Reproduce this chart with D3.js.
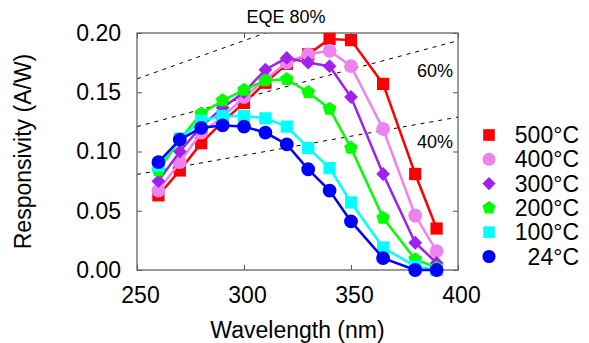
<!DOCTYPE html>
<html>
<head>
<meta charset="utf-8">
<script src="https://cdn.jsdelivr.net/npm/d3@7"></script>
<style>
  body { margin: 0; background: #fff; }
  svg text { font-family: "Liberation Sans", Arial, sans-serif; fill: #000; }
</style>
</head>
<body>
<svg class="chart"></svg>
<script>
const wavelengths = [260, 270, 280, 290, 300, 310, 320, 330, 340, 350, 365, 380, 390];
const s500 = [0.063, 0.084, 0.107, 0.125, 0.141, 0.158, 0.174, 0.182, 0.195, 0.194, 0.157, 0.081, 0.035];
const s400 = [0.067, 0.091, 0.116, 0.129, 0.146, 0.161, 0.175, 0.182, 0.185, 0.172, 0.119, 0.046, 0.016];
const s300 = [0.075, 0.100, 0.121, 0.137, 0.150, 0.169, 0.179, 0.175, 0.172, 0.146, 0.081, 0.023, 0.006];
const s200 = [0.084, 0.110, 0.132, 0.143, 0.152, 0.160, 0.161, 0.150, 0.136, 0.103, 0.044, 0.009, 0.002];
const s100 = [0.088, 0.111, 0.126, 0.130, 0.130, 0.128, 0.121, 0.103, 0.086, 0.057, 0.019, 0.003, 0.000];
const s24  = [0.091, 0.110, 0.120, 0.122, 0.121, 0.116, 0.106, 0.085, 0.067, 0.041, 0.010, 0.000, 0.000];
const seriesNames = ["500°C", "400°C", "300°C", "200°C", "100°C", "24°C"];
const seriesColors = ["#ff0000", "#ee82ee", "#a020f0", "#00ff00", "#00ffff", "#0000ff"];
const seriesShapes = ["square", "circle", "diamond", "pentagon", "square", "circle"];
const seriesValues = [s500, s400, s300, s200, s100, s24];
const xTicks = [250, 300, 350, 400];
const yTicks = [0, 0.05, 0.10, 0.15, 0.20];
const eqeLevels = [0.8, 0.6, 0.4];
const eqeLabels = ["EQE 80%", "60%", "40%"];

const margin = { top: 33, right: 131, bottom: 73, left: 137 },
      width = 589 - margin.left - margin.right,
      height = 343 - margin.top - margin.bottom;

const svg = d3.select(".chart")
    .attr("width", 589)
    .attr("height", 343)
    .append("g")
    .attr("transform", `translate(${margin.left}, ${margin.top})`);

const x = d3.scaleLinear().domain([250, 400]).range([0, width]);
const y = d3.scaleLinear().domain([0, 0.2]).range([height, 0]);

svg.append("defs").append("clipPath").attr("id", "clip")
    .append("rect").attr("width", width).attr("height", height);

// EQE dashed guide lines: R = EQE * lambda / 1240
svg.append("g").attr("clip-path", "url(#clip)")
    .selectAll("line").data(eqeLevels).enter().append("line")
    .attr("x1", x(250)).attr("x2", x(400))
    .attr("y1", d => y(d * 250 / 1240))
    .attr("y2", d => y(d * 400 / 1240))
    .attr("stroke", "#000").attr("stroke-width", 1)
    .attr("stroke-dasharray", "4,5");

svg.append("text").attr("x", 149).attr("y", -10)
    .attr("text-anchor", "middle").style("font-size", "18px").text(eqeLabels[0]);
svg.append("text").attr("x", 316).attr("y", 44)
    .attr("text-anchor", "end").style("font-size", "18px").text(eqeLabels[1]);
svg.append("text").attr("x", 316).attr("y", 115)
    .attr("text-anchor", "end").style("font-size", "18px").text(eqeLabels[2]);

// axes with inward ticks on all sides
const axisStyle = g => {
    g.select(".domain").remove();
    g.selectAll(".tick line").attr("stroke", "#555");
    g.selectAll(".tick text").style("font-size", "23px");
};
svg.append("g").attr("transform", `translate(0, ${height})`)
    .call(d3.axisBottom(x).tickValues(xTicks).tickSizeInner(-5).tickPadding(17).tickFormat(d3.format("d")))
    .call(axisStyle)
    .call(g => g.selectAll(".tick text").attr("dx", "3"));
svg.append("g")
    .call(d3.axisTop(x).tickValues(xTicks).tickSizeInner(-5).tickFormat(""))
    .call(axisStyle);
svg.append("g")
    .call(d3.axisLeft(y).tickValues(yTicks).tickSizeInner(-5).tickPadding(16).tickFormat(d3.format(".2f")))
    .call(axisStyle);
svg.append("g").attr("transform", `translate(${width}, 0)`)
    .call(d3.axisRight(y).tickValues(yTicks).tickSizeInner(-5).tickFormat(""))
    .call(axisStyle);

svg.append("rect").attr("width", width).attr("height", height)
    .attr("fill", "none").attr("stroke", "#666").attr("stroke-width", 1.3);

svg.append("text").attr("x", width / 2).attr("y", height + 68)
    .attr("text-anchor", "middle").style("font-size", "23px").text("Wavelength (nm)");
svg.append("text").attr("transform", "rotate(-90)")
    .attr("x", -height / 2).attr("y", -106)
    .attr("text-anchor", "middle").style("font-size", "23px").text("Responsivity (A/W)");

const symbolFor = shape => {
    if (shape === "square") return d3.symbol().type(d3.symbolSquare).size(150)();
    if (shape === "circle") return d3.symbol().type(d3.symbolCircle).size(150)();
    if (shape === "diamond") return d3.symbol().type(d3.symbolSquare).size(95)();
    // pentagon
    const r = 7.2;
    return d3.range(5).map(i => {
        const a = -Math.PI / 2 + i * 2 * Math.PI / 5;
        return (i ? "L" : "M") + (r * Math.cos(a)).toFixed(2) + "," + (r * Math.sin(a)).toFixed(2);
    }).join("") + "Z";
};
const rot = shape => shape === "diamond" ? " rotate(45)" : "";

const line = d3.line().x(d => x(d[0])).y(d => y(d[1]));

seriesValues.forEach((vals, i) => {
    const pts = wavelengths.map((w, j) => [w, vals[j]]);
    const g = svg.append("g");
    g.append("path").datum(pts).attr("d", line)
        .attr("fill", "none").attr("stroke", seriesColors[i]).attr("stroke-width", 2.5);
    g.selectAll(".pt").data(pts).enter().append("path")
        .attr("d", symbolFor(seriesShapes[i]))
        .attr("transform", d => `translate(${x(d[0])}, ${y(d[1])})` + rot(seriesShapes[i]))
        .attr("fill", seriesColors[i]);
});

// legend
const legend = svg.append("g").attr("transform", `translate(${width + 31}, 102)`);
seriesNames.forEach((name, i) => {
    const row = legend.append("g").attr("transform", `translate(0, ${i * 24.3})`);
    row.append("path").attr("d", symbolFor(seriesShapes[i]))
        .attr("transform", "scale(0.95)" + rot(seriesShapes[i]))
        .attr("fill", seriesColors[i]);
    row.append("text").attr("x", 90).attr("y", 8)
        .attr("text-anchor", "end").style("font-size", "23px").text(name);
});
</script>
</body>
</html>
